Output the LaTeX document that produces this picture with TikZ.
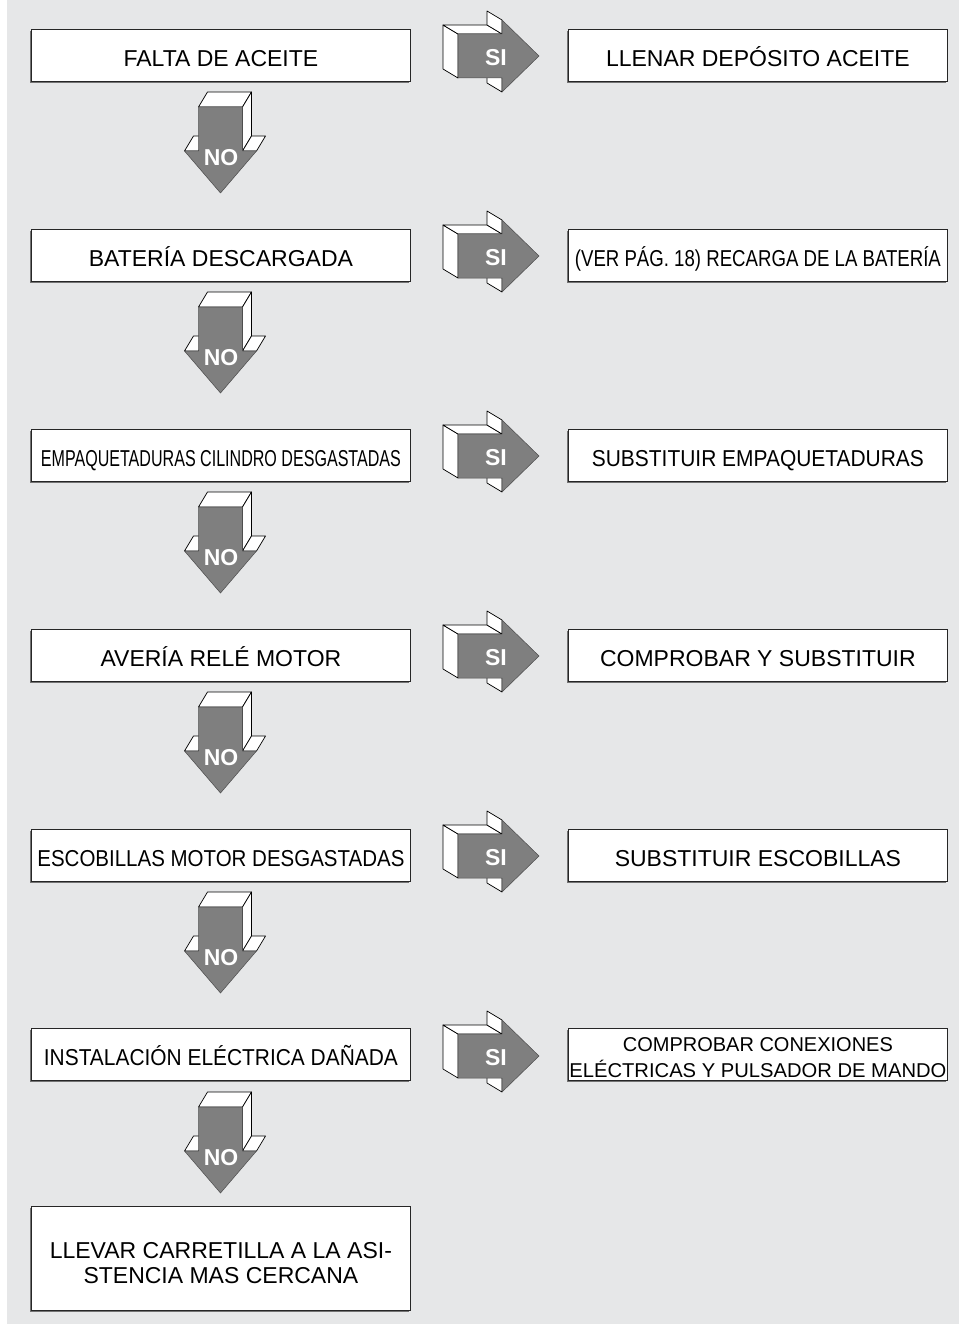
\documentclass[tikz,border=0pt]{standalone}
\usepackage{fontspec}
\setmainfont{Liberation Sans}
\usetikzlibrary{shadows}
\definecolor{bg}{HTML}{E6E7E8}
\definecolor{arrgray}{HTML}{7F7F7F}
\tikzset{
 box/.style={draw=black!85, line width=0.8pt, fill=white, minimum width=379pt, minimum height=52pt,
   inner sep=0pt, align=center, font=\fontsize{23}{26}\selectfont, anchor=north west,
   text height=22pt, text depth=0pt,
   drop shadow={shadow xshift=-1.2pt, shadow yshift=-1.2pt, fill=black!55, opacity=1}},
 arrlabel/.style={text=white, font=\fontsize{23}{23}\selectfont\bfseries, inner sep=0pt},
 arrside/.style={fill=white, draw=black, line width=0.7pt, line join=round},
 arrfront/.style={fill=arrgray, draw=black!70, line width=0.5pt, line join=round},
 arrowthreed/.pic={
  \path[arrside] (0,-22) -- (-15,-31) -- (-15,13) -- (0,22) -- cycle;
  \path[arrside] (0,-22) -- (-15,-31) -- (29,-31) -- (44,-22) -- cycle;
  \path[arrside] (44,-22) -- (44,-36) -- (29,-45) -- (29,-31) -- cycle;
  \path[arrside] (44,22) -- (44,36) -- (29,27) -- (29,13) -- cycle;
  \path[arrfront] (0,-22) -- (44,-22) -- (44,-36) -- (44+#1,0) -- (44,36) -- (44,22) -- (0,22) -- cycle;
 }
}
\begin{document}
\begin{tikzpicture}[x=1pt,y=-1pt]
\useasboundingbox (0,0) rectangle (959,1324);
\fill[bg] (7,0) rectangle (959,1324);

% left column
\node[box] (l1) at (31,29) {FALTA DE ACEITE};
\node[box] (l2) at (31,229) {BATERÍA DESCARGADA};
\node[box] (l3) at (31,429) {\resizebox{360pt}{\height}{EMPAQUETADURAS CILINDRO DESGASTADAS}};
\node[box] (l4) at (31,629) {AVERÍA RELÉ MOTOR};
\node[box] (l5) at (31,829) {\resizebox{367pt}{\height}{ESCOBILLAS MOTOR DESGASTADAS}};
\node[box] (l6) at (31,1028) {\resizebox{354pt}{\height}{INSTALACIÓN ELÉCTRICA DAÑADA}};
\node[box, minimum height=104pt, font=\fontsize{23}{25}\selectfont, text height=52pt, text depth=2pt] (l7) at (31,1206) {LLEVAR CARRETILLA A LA ASI-\\STENCIA MAS CERCANA};

% right column
\node[box] (r1) at (568,29) {LLENAR DEPÓSITO ACEITE};
\node[box] (r2) at (568,229) {\resizebox{366pt}{\height}{(VER PÁG. 18) RECARGA DE LA BATERÍA}};
\node[box] (r3) at (568,429) {\resizebox{332pt}{\height}{SUBSTITUIR EMPAQUETADURAS}};
\node[box] (r4) at (568,629) {COMPROBAR Y SUBSTITUIR};
\node[box] (r5) at (568,829) {SUBSTITUIR ESCOBILLAS};
\node[box, font=\fontsize{20}{26}\selectfont, text height=48pt, text depth=2pt] (r6) at (568,1028) {COMPROBAR CONEXIONES\\\resizebox{377pt}{\height}{ELÉCTRICAS Y PULSADOR DE MANDO}};

% SI arrows
\foreach \i in {0,...,5}{
  \pic (si\i) at (458,56+200*\i) {arrowthreed=37};
  \node[arrlabel] (silabel\i) at (496,58+200*\i) {SI};
}
% NO arrows
\foreach \i in {0,...,5}{
  \pic[rotate=-90] (no\i) at (220.5,107+200*\i) {arrowthreed=42};
  \node[arrlabel] (nolabel\i) at (221,158+200*\i) {NO};
}
\end{tikzpicture}
\end{document}
